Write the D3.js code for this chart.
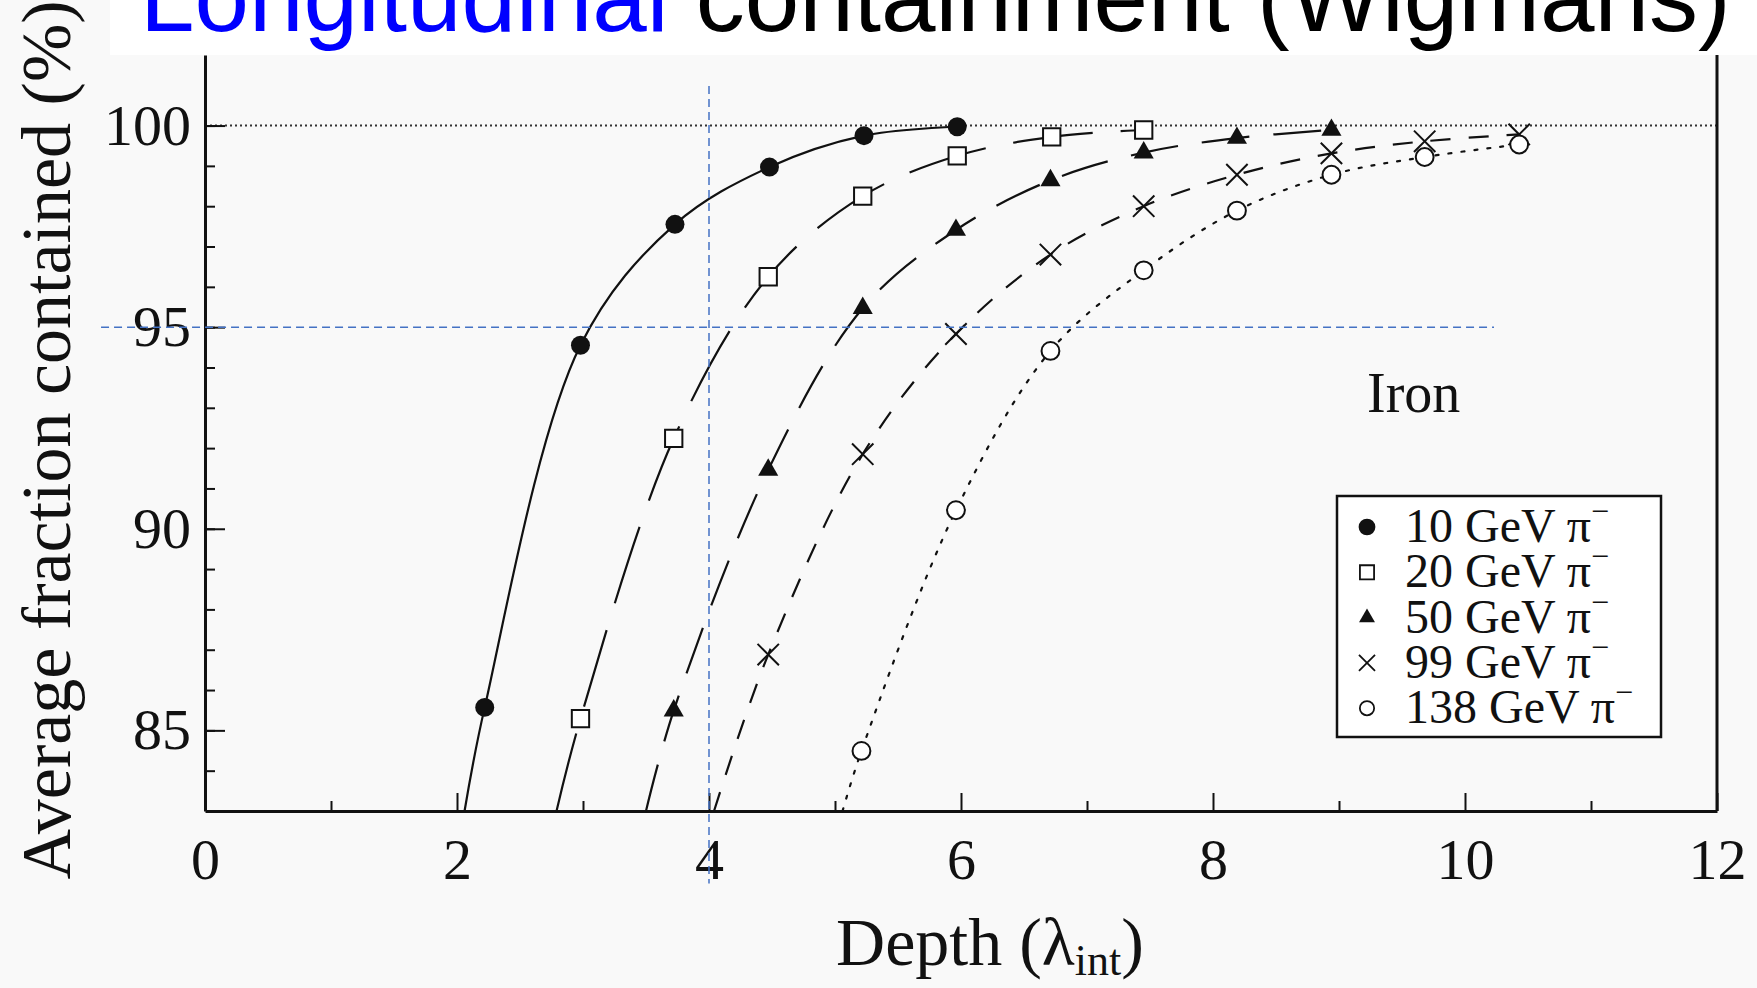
<!DOCTYPE html>
<html>
<head>
<meta charset="utf-8">
<script src="https://cdn.jsdelivr.net/npm/d3@7"></script>
<style>
  body { margin: 0; background: #f9f9f9; }
  svg { display: block; }
  .axis path, .axis line { stroke: #111; }
  .axis text { font-family: "Liberation Serif", "DejaVu Serif", serif; fill: #111; }
</style>
</head>
<body>
<svg width="1757" height="988"></svg>
<script>
// depth in interaction lengths, fraction contained in %
var depth10 = [2.22, 2.98, 3.73, 4.48, 5.23, 5.97];
var frac10 = [85.57, 94.55, 97.55, 98.97, 99.75, 99.97];

var depth20 = [2.98, 3.72, 4.47, 5.22, 5.97, 6.72, 7.45];
var frac20 = [85.29, 92.24, 96.25, 98.25, 99.25, 99.72, 99.89];

var depth50 = [3.72, 4.47, 5.22, 5.96, 6.71, 7.45, 8.19, 8.94];
var frac50 = [85.49, 91.46, 95.47, 97.41, 98.64, 99.33, 99.69, 99.89];

var depth99 = [4.47, 5.22, 5.96, 6.71, 7.45, 8.19, 8.94, 9.68, 10.43];
var frac99 = [86.88, 91.85, 94.83, 96.80, 98.00, 98.78, 99.31, 99.61, 99.78];

var depth138 = [5.21, 5.96, 6.71, 7.45, 8.19, 8.94, 9.68, 10.43];
var frac138 = [84.49, 90.46, 94.41, 96.41, 97.89, 98.78, 99.22, 99.53];

// where each fitted curve leaves the bottom of the frame (83 %)
var fitStart = [2.06, 2.79, 3.50, 4.04, 5.06];

var seriesNames = ["10 GeV \u03c0", "20 GeV \u03c0", "50 GeV \u03c0", "99 GeV \u03c0", "138 GeV \u03c0"];
var xTicks = [0, 2, 4, 6, 8, 10, 12];
var yTicks = [85, 90, 95, 100];

var svg = d3.select("svg");

var x = d3.scaleLinear().domain([0, 12]).range([205, 1717]);
var y = d3.scaleLinear().domain([83, 101.75]).range([811, 55]);

var series = [
    { name: seriesNames[0], xs: depth10, ys: frac10, start: fitStart[0], sym: d3.symbolCircle, size: 283, fill: "#111", dash: null },
    { name: seriesNames[1], xs: depth20, ys: frac20, start: fitStart[1], sym: d3.symbolSquare, size: 300, fill: "#fff", dash: "80,28" },
    { name: seriesNames[2], xs: depth50, ys: frac50, start: fitStart[2], sym: d3.symbolTriangle, size: 175, fill: "#111", dash: "48,24" },
    { name: seriesNames[3], xs: depth99, ys: frac99, start: fitStart[3], sym: d3.symbolTimes || d3.symbolCross, size: 300, fill: "none", dash: "20,18" },
    { name: seriesNames[4], xs: depth138, ys: frac138, start: fitStart[4], sym: d3.symbolCircle, size: 250, fill: "#fff", dash: "3,10" }
];
series.forEach(function(s) {
    s.points = s.xs.map(function(v, i) { return { x: v, y: s.ys[i] }; });
});

// title band
svg.append("rect")
    .attr("x", 110).attr("y", 0)
    .attr("width", 1647).attr("height", 55)
    .attr("fill", "#fff");

var title = svg.append("text")
    .attr("x", 140)
    .attr("y", 31)
    .style("font-family", "'Liberation Sans', Arial, sans-serif")
    .style("font-size", "98px");
title.append("tspan").attr("fill", "#0000ff").text("Longitudinal");
title.append("tspan").attr("fill", "#000").text(" containment (Wigmans)");

// 100 % reference line
svg.append("line")
    .attr("x1", x(0)).attr("x2", x(12))
    .attr("y1", y(100)).attr("y2", y(100))
    .attr("stroke", "#333")
    .attr("stroke-width", 2)
    .attr("stroke-dasharray", "2,3");

// axes: minor ticks first, then labelled major ticks
svg.append("g")
    .attr("class", "axis")
    .attr("transform", "translate(0," + y(83) + ")")
    .call(d3.axisBottom(x).tickValues(d3.range(1, 12, 2)).tickSize(-10).tickSizeOuter(0).tickFormat(""))
    .call(function(g) { g.select(".domain").remove(); })
    .selectAll("line").attr("stroke-width", 2);

svg.append("g")
    .attr("class", "axis")
    .attr("transform", "translate(0," + y(83) + ")")
    .call(d3.axisBottom(x).tickValues(xTicks).tickSize(-18).tickSizeOuter(0).tickPadding(27))
    .call(function(g) {
        g.select(".domain").attr("stroke-width", 3);
        g.selectAll("line").attr("stroke-width", 2);
        g.selectAll("text").style("font-size", "58px");
    });

svg.append("g")
    .attr("class", "axis")
    .attr("transform", "translate(" + x(0) + ",0)")
    .call(d3.axisLeft(y).tickValues(d3.range(84, 101)).tickSize(-10).tickSizeOuter(0).tickFormat(""))
    .call(function(g) { g.select(".domain").remove(); })
    .selectAll("line").attr("stroke-width", 2);

svg.append("g")
    .attr("class", "axis")
    .attr("transform", "translate(" + x(0) + ",0)")
    .call(d3.axisLeft(y).tickValues(yTicks).tickSize(-20).tickSizeOuter(0).tickPadding(14))
    .call(function(g) {
        g.select(".domain").attr("stroke-width", 3);
        g.selectAll("line").attr("stroke-width", 2);
        g.selectAll("text").style("font-size", "58px");
    });

// right edge of the frame
svg.append("line")
    .attr("x1", x(12)).attr("x2", x(12))
    .attr("y1", y(101.75)).attr("y2", y(83))
    .attr("stroke", "#111")
    .attr("stroke-width", 3);

// axis titles
var xTitle = svg.append("text")
    .attr("x", 990)
    .attr("y", 965)
    .attr("text-anchor", "middle")
    .style("font-family", "'Liberation Serif', serif")
    .style("font-size", "68px")
    .attr("fill", "#111");
xTitle.append("tspan").text("Depth (\u03bb");
xTitle.append("tspan").attr("dy", 10).style("font-size", "44px").text("int");
xTitle.append("tspan").attr("dy", -10).text(")");

svg.append("text")
    .attr("transform", "translate(70,440) rotate(-90)")
    .attr("text-anchor", "middle")
    .style("font-family", "'Liberation Serif', serif")
    .style("font-size", "70px")
    .attr("fill", "#111")
    .text("Average  fraction contained (%)");

// fitted curves
var line = d3.line()
    .x(function(d) { return x(d.x); })
    .y(function(d) { return y(d.y); })
    .curve(d3.curveCatmullRom.alpha(0.5));

svg.selectAll(".fit")
    .data(series)
    .enter().append("path")
    .attr("class", "fit")
    .attr("d", function(s) {
        return line([{ x: s.start, y: 83 }].concat(s.points));
    })
    .attr("fill", "none")
    .attr("stroke", "#111")
    .attr("stroke-width", 2.2)
    .attr("stroke-dasharray", function(s) { return s.dash; })
    .attr("stroke-linecap", function(s) { return s.dash === "3,10" ? "round" : "butt"; });

// markers
series.forEach(function(s) {
    svg.append("g").selectAll("path")
        .data(s.points)
        .enter().append("path")
        .attr("transform", function(d) { return "translate(" + x(d.x) + "," + y(d.y) + ")"; })
        .attr("d", d3.symbol(s.sym, s.size))
        .attr("fill", s.fill)
        .attr("stroke", "#111")
        .attr("stroke-width", s.fill === "#111" ? 0 : 2);
});

// blue guide lines at 4 interaction lengths and 95 %
svg.append("line")
    .attr("x1", x(-0.825)).attr("x2", x(10.23))
    .attr("y1", y(95)).attr("y2", y(95))
    .attr("stroke", "#4472c4")
    .attr("stroke-width", 1.5)
    .attr("stroke-dasharray", "8,5");

svg.append("line")
    .attr("x1", x(4)).attr("x2", x(4))
    .attr("y1", y(100.98)).attr("y2", y(81.2))
    .attr("stroke", "#4472c4")
    .attr("stroke-width", 1.5)
    .attr("stroke-dasharray", "8,5");

// material label
svg.append("text")
    .attr("x", 1367)
    .attr("y", 412)
    .style("font-family", "'Liberation Serif', serif")
    .style("font-size", "56px")
    .attr("fill", "#111")
    .text("Iron");

// legend
var legend = svg.append("g");
legend.append("rect")
    .attr("x", 1337).attr("y", 496)
    .attr("width", 324).attr("height", 241)
    .attr("fill", "#fff")
    .attr("stroke", "#111")
    .attr("stroke-width", 2.5);

var legendSizes = [220, 200, 110, 170, 160];
var rows = legend.selectAll(".row")
    .data(series)
    .enter().append("g")
    .attr("class", "row")
    .attr("transform", function(d, i) { return "translate(1367," + (527 + i * 45.3) + ")"; });

rows.append("path")
    .attr("d", function(d, i) { return d3.symbol(d.sym, legendSizes[i])(); })
    .attr("fill", function(d) { return d.fill; })
    .attr("stroke", "#111")
    .attr("stroke-width", function(d) { return d.fill === "#111" ? 0 : 1.8; });

var label = rows.append("text")
    .attr("x", 38)
    .attr("y", 15)
    .style("font-family", "'Liberation Serif', serif")
    .style("font-size", "48px")
    .attr("fill", "#111");
label.append("tspan").text(function(d) { return d.name; });
label.append("tspan")
    .attr("dy", -20)
    .style("font-size", "32px")
    .text("\u2212");
</script>
</body>
</html>
